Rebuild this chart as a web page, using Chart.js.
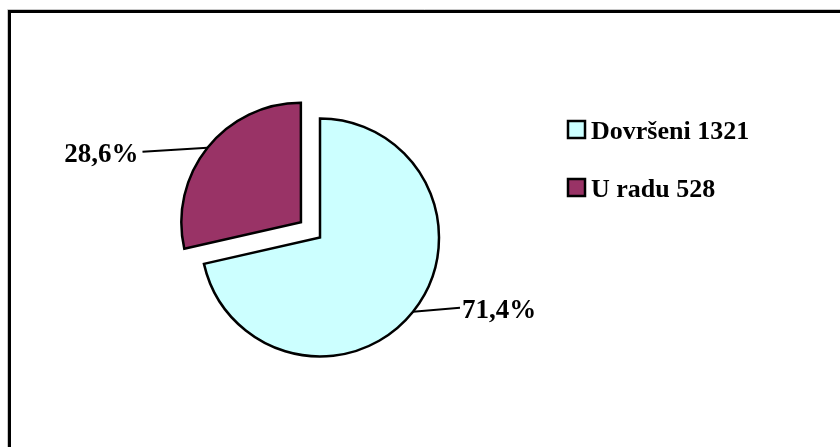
<!DOCTYPE html>
<html>
<head>
<meta charset="utf-8">
<script src="https://cdn.jsdelivr.net/npm/chart.js@4/dist/chart.umd.min.js"></script>
<style>
  html, body { margin: 0; padding: 0; background: #ffffff; }
  #wrap { width: 840px; height: 447px; position: relative; }
</style>
</head>
<body>
<div id="wrap"><canvas id="c" width="840" height="447"></canvas></div>
<script>
const categories = ['Dovršeni', 'U radu'];
const counts = [1321, 528];
const percentLabels = ['71,4%', '28,6%'];
const sliceColors = ['#CCFFFF', '#993366'];

const FONT = 'bold 27px "Liberation Serif", "Times New Roman", serif';
const LEGEND_FONT = 'bold 26px "Liberation Serif", "Times New Roman", serif';

const framePlugin = {
  id: 'frame',
  beforeDraw(chart) {
    const ctx = chart.ctx;
    ctx.save();
    ctx.fillStyle = '#ffffff';
    ctx.fillRect(0, 0, chart.width, chart.height);
    ctx.strokeStyle = '#c8c8c8';
    ctx.lineWidth = 1;
    ctx.beginPath();
    ctx.moveTo(7.5, chart.height + 5);
    ctx.lineTo(7.5, 9.5);
    ctx.lineTo(chart.width + 5, 9.5);
    ctx.stroke();
    ctx.strokeStyle = '#000000';
    ctx.lineWidth = 3;
    ctx.beginPath();
    ctx.moveTo(9.5, chart.height + 5);
    ctx.lineTo(9.5, 11.5);
    ctx.lineTo(chart.width + 5, 11.5);
    ctx.stroke();
    ctx.restore();
  }
};

const labelPlugin = {
  id: 'sliceLabels',
  afterDatasetsDraw(chart) {
    const ctx = chart.ctx;
    const meta = chart.getDatasetMeta(0);
    ctx.save();
    ctx.font = FONT;
    ctx.fillStyle = '#000000';
    ctx.strokeStyle = '#000000';
    ctx.lineWidth = 2;
    meta.data.forEach((arc, i) => {
      const p = arc.getProps(['x', 'y', 'startAngle', 'endAngle', 'outerRadius', 'circumference']);
      const off = (arc.options.offset || 0) / 4;
      const mid = (p.startAngle + p.endAngle) / 2;
      const fix = 1 - Math.sin(Math.min(Math.PI, p.circumference));
      const shift = off * (1 + fix);
      const cx = p.x + Math.cos(mid) * shift;
      const cy = p.y + Math.sin(mid) * shift;
      const sx = cx + Math.cos(mid) * p.outerRadius;
      const sy = cy + Math.sin(mid) * p.outerRadius;
      const right = Math.cos(mid) >= 0;
      const ex = right ? sx + 47 : sx - 65;
      const ey = right ? sy - 4 : sy + 4;
      ctx.beginPath();
      ctx.moveTo(sx, sy);
      ctx.lineTo(ex, ey);
      ctx.stroke();
      ctx.textBaseline = 'alphabetic';
      ctx.textAlign = right ? 'left' : 'right';
      ctx.fillText(percentLabels[i], right ? ex + 2 : ex - 4, ey + 10);
    });
    ctx.restore();
  }
};

const legendPlugin = {
  id: 'customLegend',
  afterDraw(chart) {
    const ctx = chart.ctx;
    const labels = chart.data.labels;
    const ds = chart.data.datasets[0];
    ctx.save();
    ctx.font = LEGEND_FONT;
    ctx.textBaseline = 'alphabetic';
    ctx.textAlign = 'left';
    labels.forEach((lab, i) => {
      const cy = 130 + i * 58;
      ctx.fillStyle = ds.backgroundColor[i];
      ctx.fillRect(568, cy - 9, 17, 17);
      ctx.strokeStyle = '#000000';
      ctx.lineWidth = 2.5;
      ctx.strokeRect(568, cy - 9, 17, 17);
      ctx.fillStyle = '#000000';
      ctx.fillText(lab + ' ' + ds.data[i], 591, cy + 9);
    });
    ctx.restore();
  }
};

new Chart(document.getElementById('c'), {
  type: 'pie',
  data: {
    labels: categories,
    datasets: [{
      data: counts,
      backgroundColor: sliceColors,
      borderColor: '#000000',
      borderWidth: 2.5,
      borderJoinStyle: 'miter',
      offset: [0, 97.5],
      hoverOffset: 0
    }]
  },
  options: {
    responsive: false,
    animation: false,
    devicePixelRatio: 1,
    radius: 119,
    layout: { padding: { left: 100, right: 300, top: 68, bottom: 40 } },
    plugins: {
      legend: { display: false },
      tooltip: { enabled: false }
    },
    events: []
  },
  plugins: [framePlugin, labelPlugin, legendPlugin]
});
</script>
</body>
</html>
